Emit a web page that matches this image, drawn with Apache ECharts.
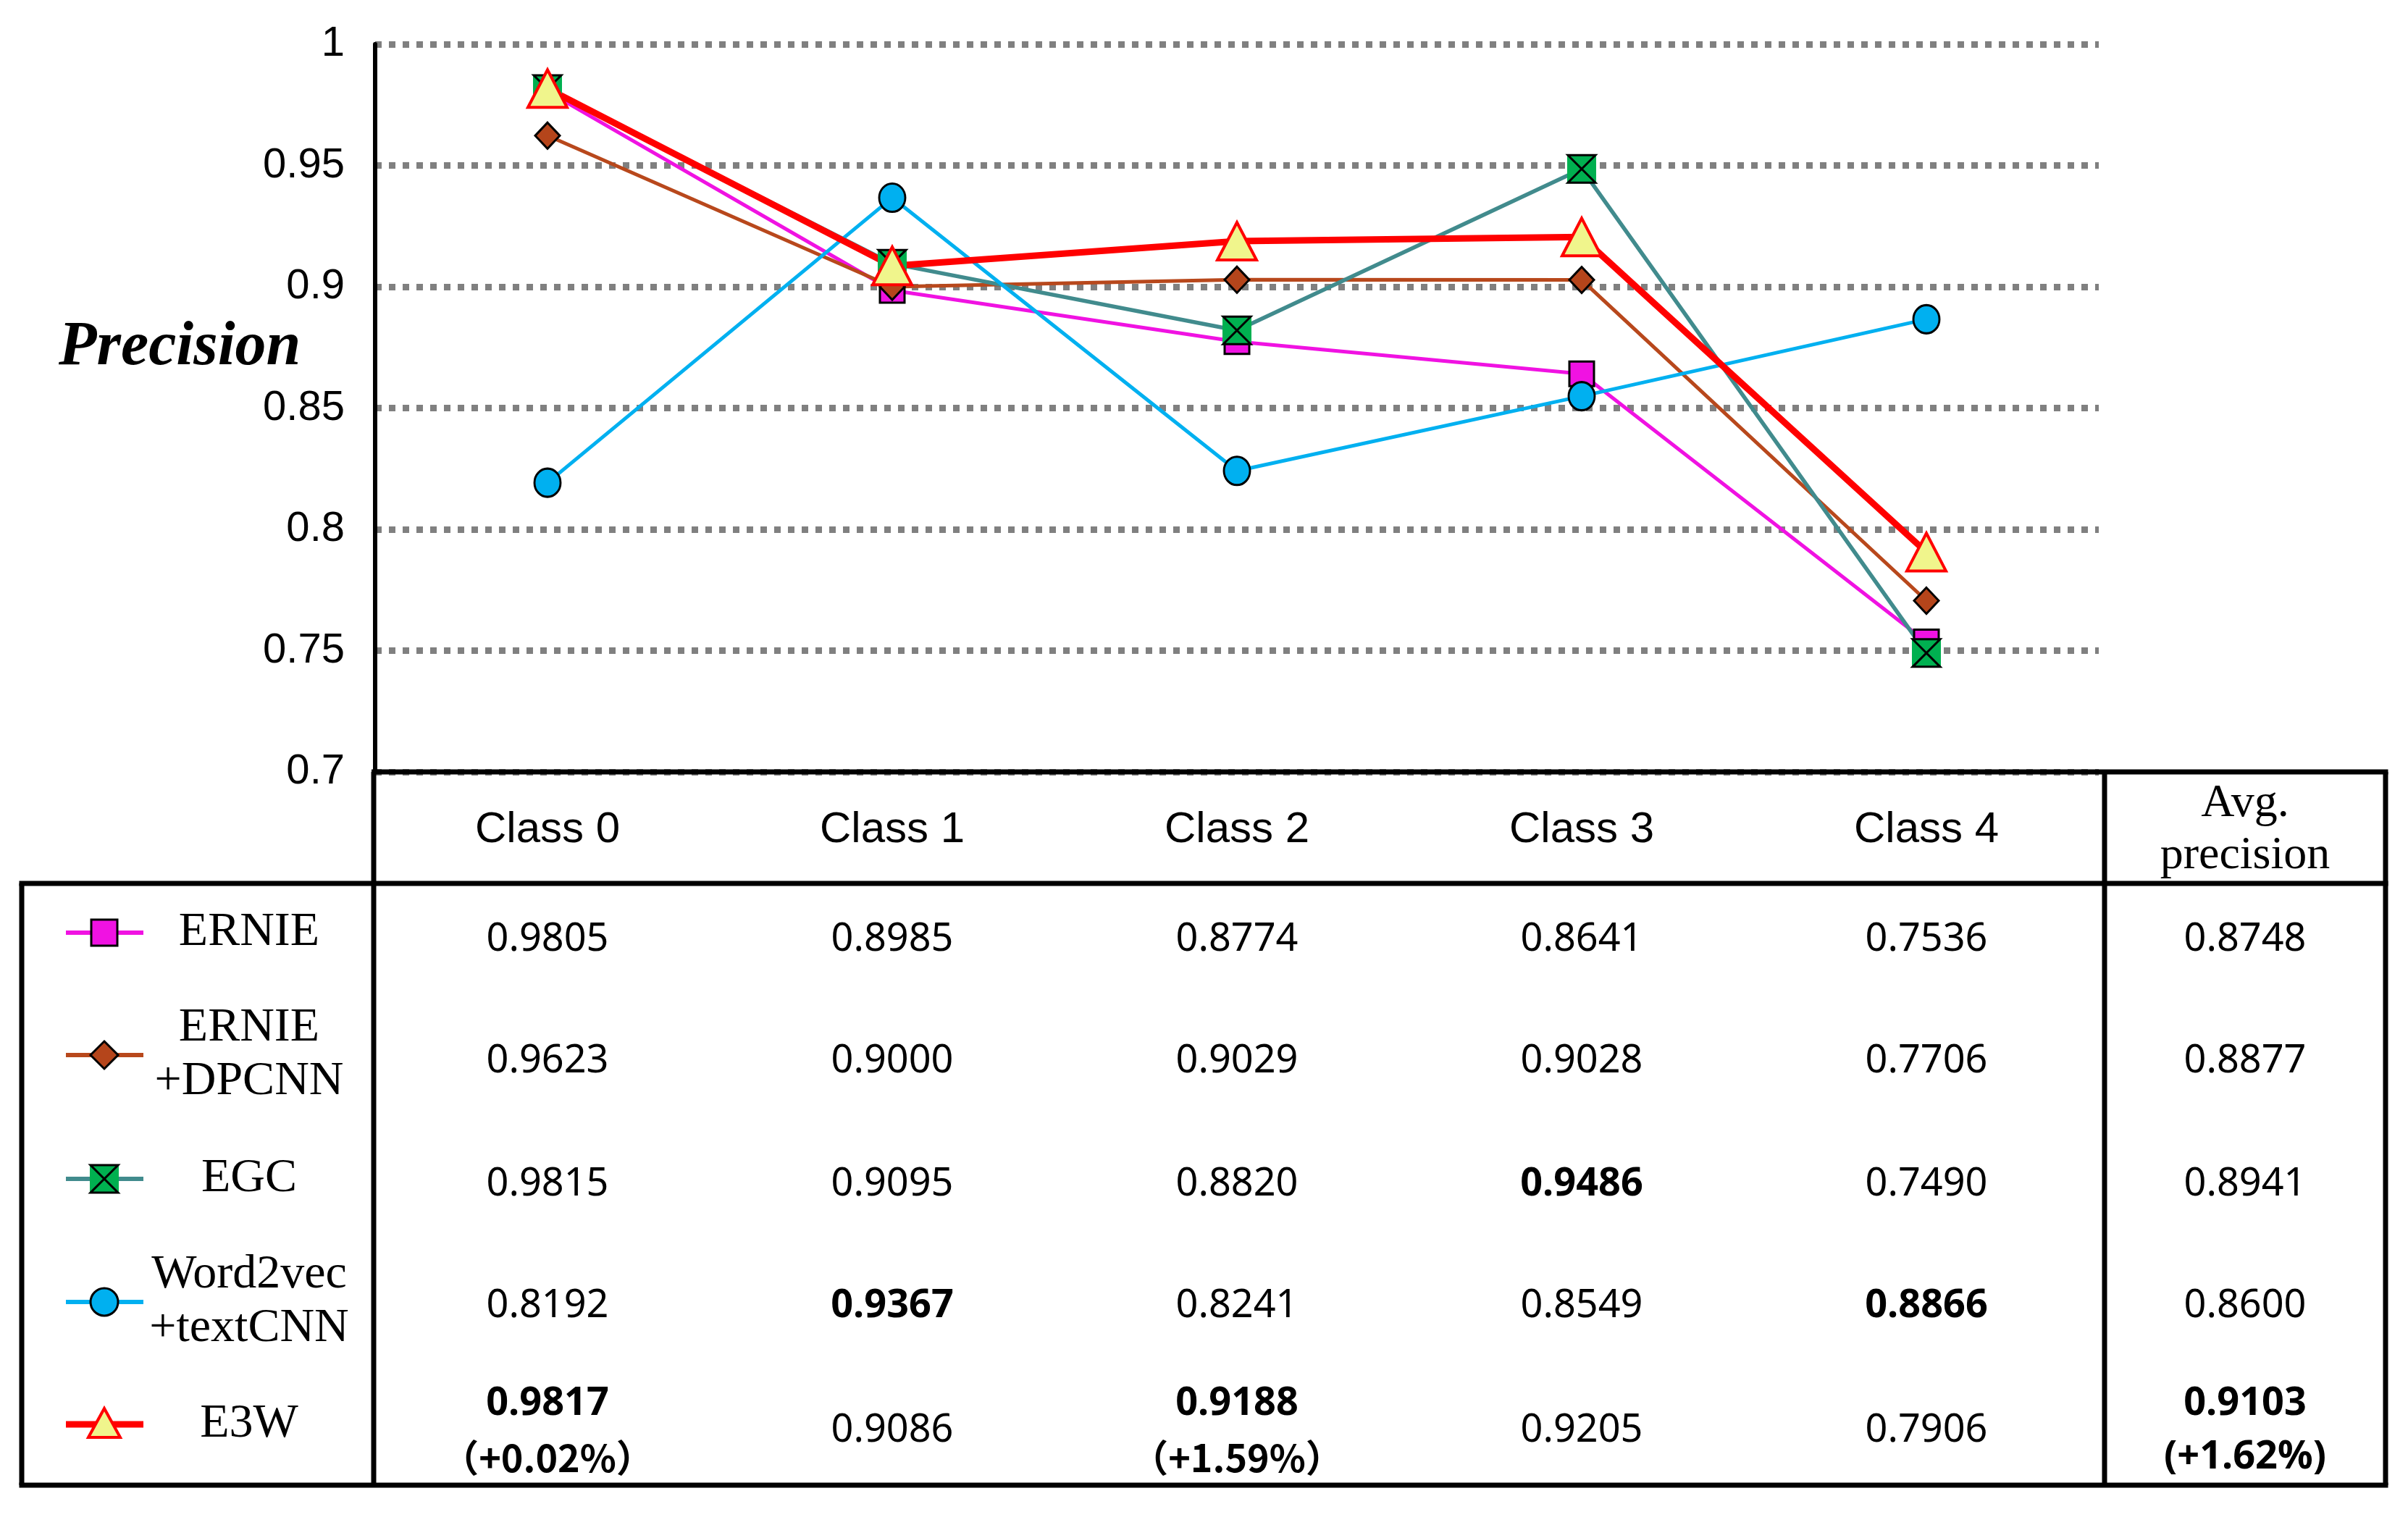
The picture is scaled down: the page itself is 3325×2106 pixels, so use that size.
<!DOCTYPE html>
<html>
<head>
<meta charset="utf-8">
<script src="https://cdn.jsdelivr.net/npm/echarts@6/dist/echarts.min.js"></script>
<style>html,body{margin:0;padding:0;background:#fff}#c{width:3325px;height:2106px}</style>
</head>
<body>
<div id="c"></div>
<script>
const categories = ['Class 0', 'Class 1', 'Class 2', 'Class 3', 'Class 4'];
const yMin = 0.7, yMax = 1, yStep = 0.05;
const modelNames = ['ERNIE', 'ERNIE\n+DPCNN', 'EGC', 'Word2vec\n+textCNN', 'E3W'];
const ernie   = [0.9805, 0.8985, 0.8774, 0.8641, 0.7536];
const dpcnn   = [0.9623, 0.9000, 0.9029, 0.9028, 0.7706];
const egc     = [0.9815, 0.9095, 0.8820, 0.9486, 0.7490];
const w2v     = [0.8192, 0.9367, 0.8241, 0.8549, 0.8866];
const e3w     = [0.9817, 0.9086, 0.9188, 0.9205, 0.7906];
const avgPrecision = [0.8748, 0.8877, 0.8941, 0.8600, 0.9103];
const e3wGain = ['（+0.02%）', null, '（+1.59%）', null, null];
const avgGain = '(+1.62%)';
const avgHeader = 'Avg.\nprecision';
const yAxisTitle = 'Precision';

const allRows = [ernie, dpcnn, egc, w2v, e3w];

const C = {
  ernie: '#F012E2', dpcnn: '#B8481C', dpcnnFill: '#B5451B', egcLine: '#418B8D', egcFill: '#00B050',
  w2v: '#00B0F0', e3w: '#FF0000', e3wFill: '#F0F58C'
};
const numFont = "'Noto Sans', 'Noto Sans CJK SC', sans-serif";
const cjkFont = "'Noto Sans CJK SC', 'Noto Sans CJK JP', sans-serif";
const serif = "'Liberation Serif', 'Times New Roman', serif";

const chart = echarts.init(document.getElementById('c'));
const hourglass = 'path://M0,0L10,0L0,10L10,10Z';

chart.setOption({
  animation: false,
  backgroundColor: '#fff',
  title: {
    text: yAxisTitle, left: 76, top: 433,
    textStyle: { fontFamily: serif, fontSize: 86, fontStyle: 'italic', fontWeight: 'bold', color: '#000' }
  },
  grid: { left: 518, right: 427, top: 61, bottom: 1040 },
  xAxis: {
    type: 'category', data: categories, boundaryGap: true,
    axisLine: { show: false }, axisTick: { show: false },
    axisLabel: { margin: 50, fontFamily: "'Liberation Sans', Arial, sans-serif", fontSize: 60, color: '#000' }
  },
  yAxis: {
    type: 'value', min: yMin, max: yMax, interval: yStep,
    axisLine: { show: true, lineStyle: { color: '#000', width: 6 } },
    axisTick: { show: false },
    axisLabel: { margin: 42, fontFamily: "'Liberation Sans', Arial, sans-serif", fontSize: 58, color: '#000' },
    splitLine: { show: true, lineStyle: { color: '#808080', width: 9, type: [9, 10] } }
  },
  series: [
    { name: 'ERNIE', type: 'line', data: ernie, symbol: 'rect', symbolSize: 34,
      lineStyle: { color: C.ernie, width: 5 },
      itemStyle: { color: C.ernie, borderColor: '#000', borderWidth: 3 } },
    { name: 'ERNIE+DPCNN', type: 'line', data: dpcnn, symbol: 'diamond', symbolSize: [34, 36],
      lineStyle: { color: C.dpcnn, width: 5 },
      itemStyle: { color: C.dpcnnFill, borderColor: '#000', borderWidth: 3 } },
    { name: 'EGC', type: 'line', data: egc, symbol: 'rect', symbolSize: 40,
      lineStyle: { color: C.egcLine, width: 5.5 },
      itemStyle: { color: C.egcFill, borderWidth: 0 } },
    { name: 'EGC-x', type: 'line', data: egc, symbol: hourglass, symbolSize: 38, silent: true,
      lineStyle: { width: 0, opacity: 0 },
      itemStyle: { color: 'rgba(0,0,0,0)', borderColor: '#000', borderWidth: 3 } },
    { name: 'Word2vec+textCNN', type: 'line', data: w2v, symbol: 'circle', symbolSize: [36, 39],
      lineStyle: { color: C.w2v, width: 5 },
      itemStyle: { color: C.w2v, borderColor: '#000', borderWidth: 3 } },
    { name: 'E3W', type: 'line', data: e3w, symbol: 'triangle', symbolSize: [54, 52],
      lineStyle: { color: C.e3w, width: 9 },
      itemStyle: { color: C.e3wFill, borderColor: C.e3w, borderWidth: 4 } }
  ]
});

// ---- table & legend (layout) ----
const colX = categories.map((c, i) => chart.convertToPixel({ xAxisIndex: 0 }, i));
const avgX = 3100;
const tTop = 1066, tHead = 1220, tBot = 2051, tLeft = 30, tAxis = 516, tAvg = 2906, tRight = 3294;
const rowCenters = [1298, 1466, 1636, 1804, 1976];
const legendY = [1288, 1457, 1628, 1798, 1967];
const g = [];
const line = (x1, y1, x2, y2, w, col) => g.push({ type: 'line', shape: { x1, y1, x2, y2 }, style: { stroke: col || '#000', lineWidth: w }, z: 100 });
line(tAxis - 3, tTop, tRight + 3.5, tTop, 7);
line(tLeft - 3.5, tHead, tRight + 3.5, tHead, 7);
line(tLeft - 3.5, tBot, tRight + 3.5, tBot, 7);
line(tLeft, tHead, tLeft, tBot, 7);
line(tAxis, tTop, tAxis, tBot, 7);
line(tAvg, tTop, tAvg, tBot, 7);
line(tRight, tTop, tRight, tBot, 7);

const txt = (x, y, text, size, family, bold) => g.push({
  type: 'text', x, y, z: 100,
  style: { text, fontSize: size, fontFamily: family, fontWeight: bold ? 'bold' : 'normal', fill: '#000',
           align: 'center', verticalAlign: 'middle', lineHeight: Math.round(size * 1.12) }
});
txt(avgX, 1146, avgHeader, 64, serif, false);

const nCols = categories.length;
for (let c = 0; c <= nCols; c++) {
  const col = c < nCols ? allRows.map(r => r[c]) : avgPrecision;
  const mx = Math.max(...col);
  const x = c < nCols ? colX[c] : avgX;
  col.forEach((v, r) => {
    const bold = v === mx;
    const gain = (r === 4) ? (c < nCols ? e3wGain[c] : avgGain) : null;
    if (gain) {
      txt(x, rowCenters[r] - 37, v.toFixed(4), 54, numFont, bold);
      const wide = /[（）]/.test(gain);
      txt(x, rowCenters[r] + 37, gain, wide ? 52 : 54, wide ? cjkFont : numFont, true);
    } else {
      txt(x, rowCenters[r], v.toFixed(4), 54, numFont, bold);
    }
  });
}

// legend
const lx1 = 91, lx2 = 198, lcx = 144, ltx = 344;
const lineCols = [C.ernie, C.dpcnn, C.egcLine, C.w2v, C.e3w];
modelNames.forEach((name, i) => {
  const cy = legendY[i];
  line(lx1, cy, lx2, cy, i === 4 ? 9 : 6, lineCols[i]);
  txt(ltx, cy, name, 66, serif, false);
});
// markers
g.push({ type: 'rect', z: 101, shape: { x: lcx - 18, y: legendY[0] - 18, width: 36, height: 36 }, style: { fill: C.ernie, stroke: '#000', lineWidth: 3 } });
g.push({ type: 'polygon', z: 101, shape: { points: [[lcx, legendY[1] - 19], [lcx + 19, legendY[1]], [lcx, legendY[1] + 19], [lcx - 19, legendY[1]]] }, style: { fill: C.dpcnnFill, stroke: '#000', lineWidth: 3 } });
g.push({ type: 'rect', z: 101, shape: { x: lcx - 20, y: legendY[2] - 20, width: 40, height: 40 }, style: { fill: C.egcFill } });
g.push({ type: 'polygon', z: 102, shape: { points: [[lcx - 19, legendY[2] - 19], [lcx + 19, legendY[2] - 19], [lcx - 19, legendY[2] + 19], [lcx + 19, legendY[2] + 19]] }, style: { fill: 'none', stroke: '#000', lineWidth: 3 } });
g.push({ type: 'ellipse', z: 101, shape: { cx: lcx, cy: legendY[3], rx: 19, ry: 19 }, style: { fill: C.w2v, stroke: '#000', lineWidth: 3 } });
g.push({ type: 'polygon', z: 101, shape: { points: [[lcx, legendY[4] - 22], [lcx + 22, legendY[4] + 18], [lcx - 22, legendY[4] + 18]] }, style: { fill: C.e3wFill, stroke: C.e3w, lineWidth: 4 } });

chart.setOption({ graphic: g });
</script>
</body>
</html>
